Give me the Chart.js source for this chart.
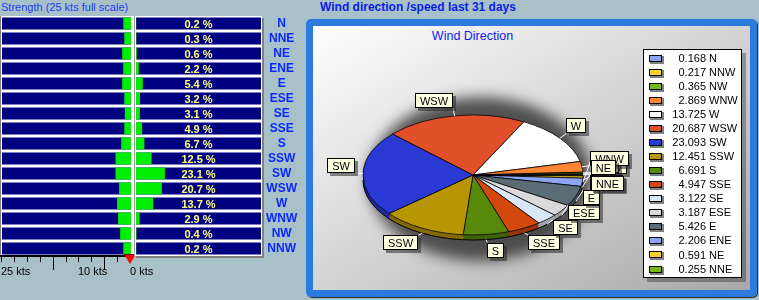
<!DOCTYPE html>
<html><head><meta charset="utf-8">
<script src="https://cdn.jsdelivr.net/npm/chart.js@4/dist/chart.umd.min.js"></script>
<style>
html,body{margin:0;padding:0;}
body{width:759px;height:300px;background:#A8C0C8;position:relative;overflow:hidden;font-family:"Liberation Sans",Arial,sans-serif;}
.abs{position:absolute;}
#h1{left:1px;top:0px;font-size:11px;color:#2040F0;line-height:14px;white-space:nowrap;}
#h2{left:320px;top:0px;font-size:12px;font-weight:bold;color:#0A1EE6;line-height:14px;white-space:nowrap;}
#frame{left:306px;top:19px;width:451px;height:278px;box-sizing:border-box;border:7px solid #2B7BDE;border-radius:5px;background:linear-gradient(to bottom right,#ffffff 0%,#a8a8a8 100%);box-shadow:1px 1px 0 #303030;}
#sub{left:300px;width:345px;top:29px;text-align:center;font-size:12.5px;line-height:15px;color:#1020F0;}
</style></head>
<body>
<div id="h1" class="abs">Strength (25 kts full scale)</div>
<div id="h2" class="abs">Wind direction /speed last 31 days</div>
<div id="frame" class="abs"></div>
<div id="sub" class="abs">Wind Direction</div>
<canvas id="c1" class="abs" style="left:0;top:0;width:160px;height:300px" width="160" height="300"></canvas>
<canvas id="c2" class="abs" style="left:134px;top:0;width:172px;height:300px" width="172" height="300"></canvas>
<canvas id="c3" class="abs" style="left:300px;top:0;width:459px;height:300px" width="459" height="300"></canvas>
<script>
// ---------- data ----------
const directions = ['N','NNE','NE','ENE','E','ESE','SE','SSE','S','SSW','SW','WSW','W','WNW','NW','NNW'];
const strengthKts = [1.5,1.3,1.7,1.5,1.7,1.3,1.2,1.3,1.9,3.0,3.0,2.3,2.7,2.5,2.1,1.5];
const percentShare = [0.2,0.3,0.6,2.2,5.4,3.2,3.1,4.9,6.7,12.5,23.1,20.7,13.7,2.9,0.4,0.2];
const strengthFullScale = 25;
const strengthTickLabels = [25,10,0];
const strengthLongTicks = [15,5];
const pieLabels = ['N','NNW','NW','WNW','W','WSW','SW','SSW','S','SSE','SE','ESE','E','ENE','NE','NNE'];
const pieValues = [0.168,0.217,0.365,2.869,13.725,20.687,23.093,12.451,6.691,4.947,3.122,3.187,5.426,2.206,0.591,0.255];
const pieColors = ['#8CA3F6','#F9D12C','#7AB81A','#FF8433','#FFFFFF','#E1502A','#2B39D4','#B89502','#57890B','#D4480E','#D8E8F9','#DADADA','#5C6C76','#8CA3F6','#F9D12C','#7AB81A'];

const FONT = '"Liberation Sans", Arial, sans-serif';
const GREEN = '#00EE00', NAVY = '#000080';

// ---------- left: strength ----------
const strengthPlugin = {
  id:'strengthBlock',
  beforeDatasetsDraw(chart){
    const {ctx, chartArea:a} = chart;
    ctx.save();
    ctx.fillStyle='#FFFFFF'; ctx.fillRect(0,a.top,134,a.bottom-a.top);
    ctx.fillStyle='#808080'; ctx.fillRect(0,a.top,1,a.bottom-a.top);
    ctx.restore();
  },
  afterDraw(chart){
    const {ctx} = chart; const xs = chart.scales.x;
    const x0 = xs.getPixelForValue(0);
    ctx.save();
    ctx.fillStyle='#000';
    ctx.fillRect(0,255,x0,2);
    for(let v=0; v<=strengthFullScale+0.001; v+=2.5){
      const px=Math.round(xs.getPixelForValue(v));
      const len = strengthLongTicks.includes(v) ? 13 : 5;
      ctx.fillRect(px-1,257,1,len);
    }
    ctx.font='11px '+FONT; ctx.textAlign='left'; ctx.textBaseline='middle';
    strengthTickLabels.forEach(v=>{
      ctx.fillText(v+' kts', Math.round(xs.getPixelForValue(v))-1, 272);
    });
    ctx.beginPath();
    ctx.moveTo(x0-7,254); ctx.lineTo(x0+5,254); ctx.lineTo(x0-1,264); ctx.closePath();
    ctx.fillStyle='#FF0000'; ctx.fill();
    ctx.strokeStyle='#700000'; ctx.lineWidth=1; ctx.beginPath(); ctx.moveTo(x0-7,254.5); ctx.lineTo(x0+5,254.5); ctx.stroke();
    ctx.restore();
  }
};
new Chart(document.getElementById('c1'), {
  type:'bar',
  data:{labels:directions, datasets:[
    {data:strengthKts, backgroundColor:GREEN, barPercentage:0.8, categoryPercentage:1, grouped:false, order:0},
    {data:directions.map(()=>strengthFullScale), backgroundColor:NAVY, barPercentage:0.8, categoryPercentage:1, grouped:false, order:1}
  ]},
  options:{indexAxis:'y', responsive:false, animation:false, devicePixelRatio:1, events:[],
    layout:{padding:{left:2,right:29,top:16,bottom:44}},
    plugins:{legend:{display:false},tooltip:{enabled:false}},
    scales:{
      x:{display:false,min:0,max:strengthFullScale,reverse:true},
      y:{display:false}
    }
  },
  plugins:[strengthPlugin]
});

// ---------- middle: percentage ----------
const percentPlugin = {
  id:'percentBlock',
  beforeDatasetsDraw(chart){
    const {ctx, chartArea:a} = chart;
    ctx.save();
    ctx.fillStyle='#808080'; ctx.fillRect(2,a.top+2,a.right+1,a.bottom-a.top);
    ctx.fillStyle='#FFFFFF'; ctx.fillRect(0,a.top,a.right+1,a.bottom-a.top);
    ctx.fillStyle='#A0A0A0'; ctx.fillRect(0,a.top,1,a.bottom-a.top);
    ctx.restore();
  },
  afterDatasetsDraw(chart){
    const {ctx, chartArea:a} = chart; const ys = chart.scales.y;
    ctx.save();
    ctx.font='bold 11px '+FONT; ctx.fillStyle='#FFFF80'; ctx.textAlign='center'; ctx.textBaseline='middle';
    percentShare.forEach((v,i)=>{ ctx.fillText(v.toFixed(1)+' %', (a.left+a.right)/2, ys.getPixelForValue(i)+1); });
    ctx.restore();
  }
};
new Chart(document.getElementById('c2'), {
  type:'bar',
  data:{labels:directions, datasets:[
    {data:percentShare, backgroundColor:GREEN, barPercentage:0.8, categoryPercentage:1, grouped:false, order:0},
    {data:directions.map(()=>100), backgroundColor:NAVY, barPercentage:0.8, categoryPercentage:1, grouped:false, order:1}
  ]},
  options:{indexAxis:'y', responsive:false, animation:false, devicePixelRatio:1, events:[],
    layout:{padding:{left:2,right:0,top:16,bottom:44}},
    plugins:{legend:{display:false},tooltip:{enabled:false}},
    scales:{
      x:{display:false,min:0,max:100},
      y:{position:'right', grid:{display:false,drawTicks:false}, border:{display:false},
         ticks:{autoSkip:false, crossAlign:'center', padding:5, color:'#0A28FF', font:{family:FONT,size:12,weight:'bold'}},
         afterFit:(s)=>{s.width=45;}}
    }
  },
  plugins:[percentPlugin]
});

// ---------- right: 3D pie ----------
const TILT = 60/110, DEPTH = 5, GAP = 8;
function shade(hex,f){
  const n=parseInt(hex.slice(1),16);
  const r=Math.round(((n>>16)&255)*f), g=Math.round(((n>>8)&255)*f), b=Math.round((n&255)*f);
  return 'rgb('+r+','+g+','+b+')';
}
function drawPieLabels(chart){
  const ctx=chart.ctx, arcs=chart.getDatasetMeta(0).data, n=pieLabels.length;
  const cx=arcs[0].x, cy=arcs[0].y, r=arcs[0].outerRadius, ry=r*TILT;
  ctx.save();
  ctx.font='11px '+FONT;
  const items = pieLabels.map((lab,i)=>{
    const a=arcs[n-1-i];
    let m=(a.startAngle+a.endAngle)/2;
    m=Math.atan2(Math.sin(m),Math.cos(m));
    const c=Math.cos(m), s=Math.sin(m);
    const w=Math.round(ctx.measureText(lab).width)+10, h=15;
    const px=cx+(r+GAP)*c, py=cy+(ry+GAP)*s;
    return {lab,m,c,s,w,h,rimX:cx+r*c, rimY:cy+ry*s+(s>0?DEPTH:0), x:c>=0?px:px-w, y:s>=0?py:py-h};
  });
  const lr = items.filter(it=>it.c>0 && it.s>=0).sort((p,q)=>q.m-p.m);
  for(let k=1;k<lr.length;k++){
    const p=lr[k-1], q=lr[k];
    const ov = q.x < p.x+p.w && q.x+q.w > p.x && q.y < p.y+p.h && q.y+q.h > p.y;
    if(ov) q.y = p.y - q.h;
  }
  ctx.strokeStyle='#FFFFFF'; ctx.lineWidth=1;
  items.forEach(it=>{
    const ax = it.c>=0 ? it.x : it.x+it.w, ay = it.s>=0 ? it.y : it.y+it.h;
    ctx.beginPath(); ctx.moveTo(it.rimX,it.rimY); ctx.lineTo(ax,ay); ctx.stroke();
  });
  items.forEach(it=>{
    const x=Math.round(it.x), y=Math.round(it.y);
    ctx.fillStyle='rgba(40,40,40,0.55)'; ctx.fillRect(x+3,y+3,it.w,it.h);
    ctx.fillStyle='#FFFFE1'; ctx.fillRect(x,y,it.w,it.h);
    ctx.strokeStyle='#000'; ctx.strokeRect(x+0.5,y+0.5,it.w-1,it.h-1);
    ctx.fillStyle='#000'; ctx.textAlign='center'; ctx.textBaseline='middle';
    ctx.fillText(it.lab, x+it.w/2, y+it.h/2+1);
  });
  ctx.restore();
}
function drawLegend(chart){
  const ctx=chart.ctx;
  const L=343, T=49, W=99, H=229;
  ctx.save();
  ctx.fillStyle='rgba(0,0,0,0.3)'; ctx.fillRect(L+4,T+4,W,H);
  ctx.fillStyle='#FFFFFF'; ctx.fillRect(L,T,W,H);
  ctx.strokeStyle='#000'; ctx.lineWidth=1; ctx.strokeRect(L+0.5,T+0.5,W-1,H-1);
  ctx.font='11px '+FONT; ctx.textBaseline='middle';
  pieLabels.forEach((lab,i)=>{
    const y=58+i*14.07;
    const sy=Math.round(y-3.5);
    ctx.fillStyle='#808080'; ctx.fillRect(350,sy+1,14,8);
    ctx.fillStyle=pieColors[i]; ctx.fillRect(349,sy,13,7);
    ctx.strokeStyle='#000'; ctx.strokeRect(349.5,sy+0.5,12,6);
    ctx.fillStyle='#000';
    ctx.textAlign='right'; ctx.fillText(pieValues[i].toFixed(3), 406, y+0.5);
    ctx.textAlign='left'; ctx.fillText(lab, 409, y+0.5);
  });
  ctx.restore();
}
const pie3d = {
  id:'pie3d',
  beforeDatasetsDraw(chart){
    const ctx=chart.ctx, arcs=chart.getDatasetMeta(0).data;
    const cx=arcs[0].x, cy=arcs[0].y, r=arcs[0].outerRadius;
    const colors=chart.data.datasets[0].backgroundColor;
    ctx.save();
    ctx.filter='blur(7px)';
    ctx.fillStyle='rgba(45,45,45,0.8)';
    ctx.beginPath(); ctx.ellipse(cx+7, cy+4, r+2, r*TILT+22, 0, 0, Math.PI*2); ctx.fill();
    ctx.restore();
    for(let d=DEPTH; d>=1; d--){
      arcs.forEach((a,i)=>{
        ctx.save(); ctx.translate(cx, cy+d); ctx.scale(1,TILT);
        ctx.beginPath(); ctx.moveTo(0,0); ctx.arc(0,0,r,a.startAngle,a.endAngle); ctx.closePath();
        ctx.restore();
        ctx.fillStyle=shade(colors[i],0.72); ctx.fill();
      });
    }
    ctx.save(); ctx.translate(cx,cy+DEPTH); ctx.scale(1,TILT); ctx.beginPath(); ctx.arc(0,0,r,0,Math.PI); ctx.restore();
    ctx.strokeStyle='#000'; ctx.lineWidth=1; ctx.stroke();
    ctx.save(); ctx.translate(cx,cy); ctx.scale(1,TILT); ctx.translate(-cx,-cy);
  },
  afterDatasetsDraw(chart){ chart.ctx.restore(); drawPieLabels(chart); },
  afterDraw(chart){ drawLegend(chart); }
};
const chartValues = pieValues.slice().reverse();
const chartLabels = pieLabels.slice().reverse();
const chartColors = pieColors.slice().reverse();
new Chart(document.getElementById('c3'), {
  type:'pie',
  data:{labels:chartLabels, datasets:[{data:chartValues, backgroundColor:chartColors, borderColor:'#000', borderWidth:1, hoverOffset:0, clip:false}]},
  options:{responsive:false, animation:false, devicePixelRatio:1, events:[],
    rotation:90, radius:110,
    layout:{padding:{left:63,right:176,top:65,bottom:15}},
    plugins:{legend:{display:false},tooltip:{enabled:false},title:{display:false}}
  },
  plugins:[pie3d]
});
</script>
</body></html>
